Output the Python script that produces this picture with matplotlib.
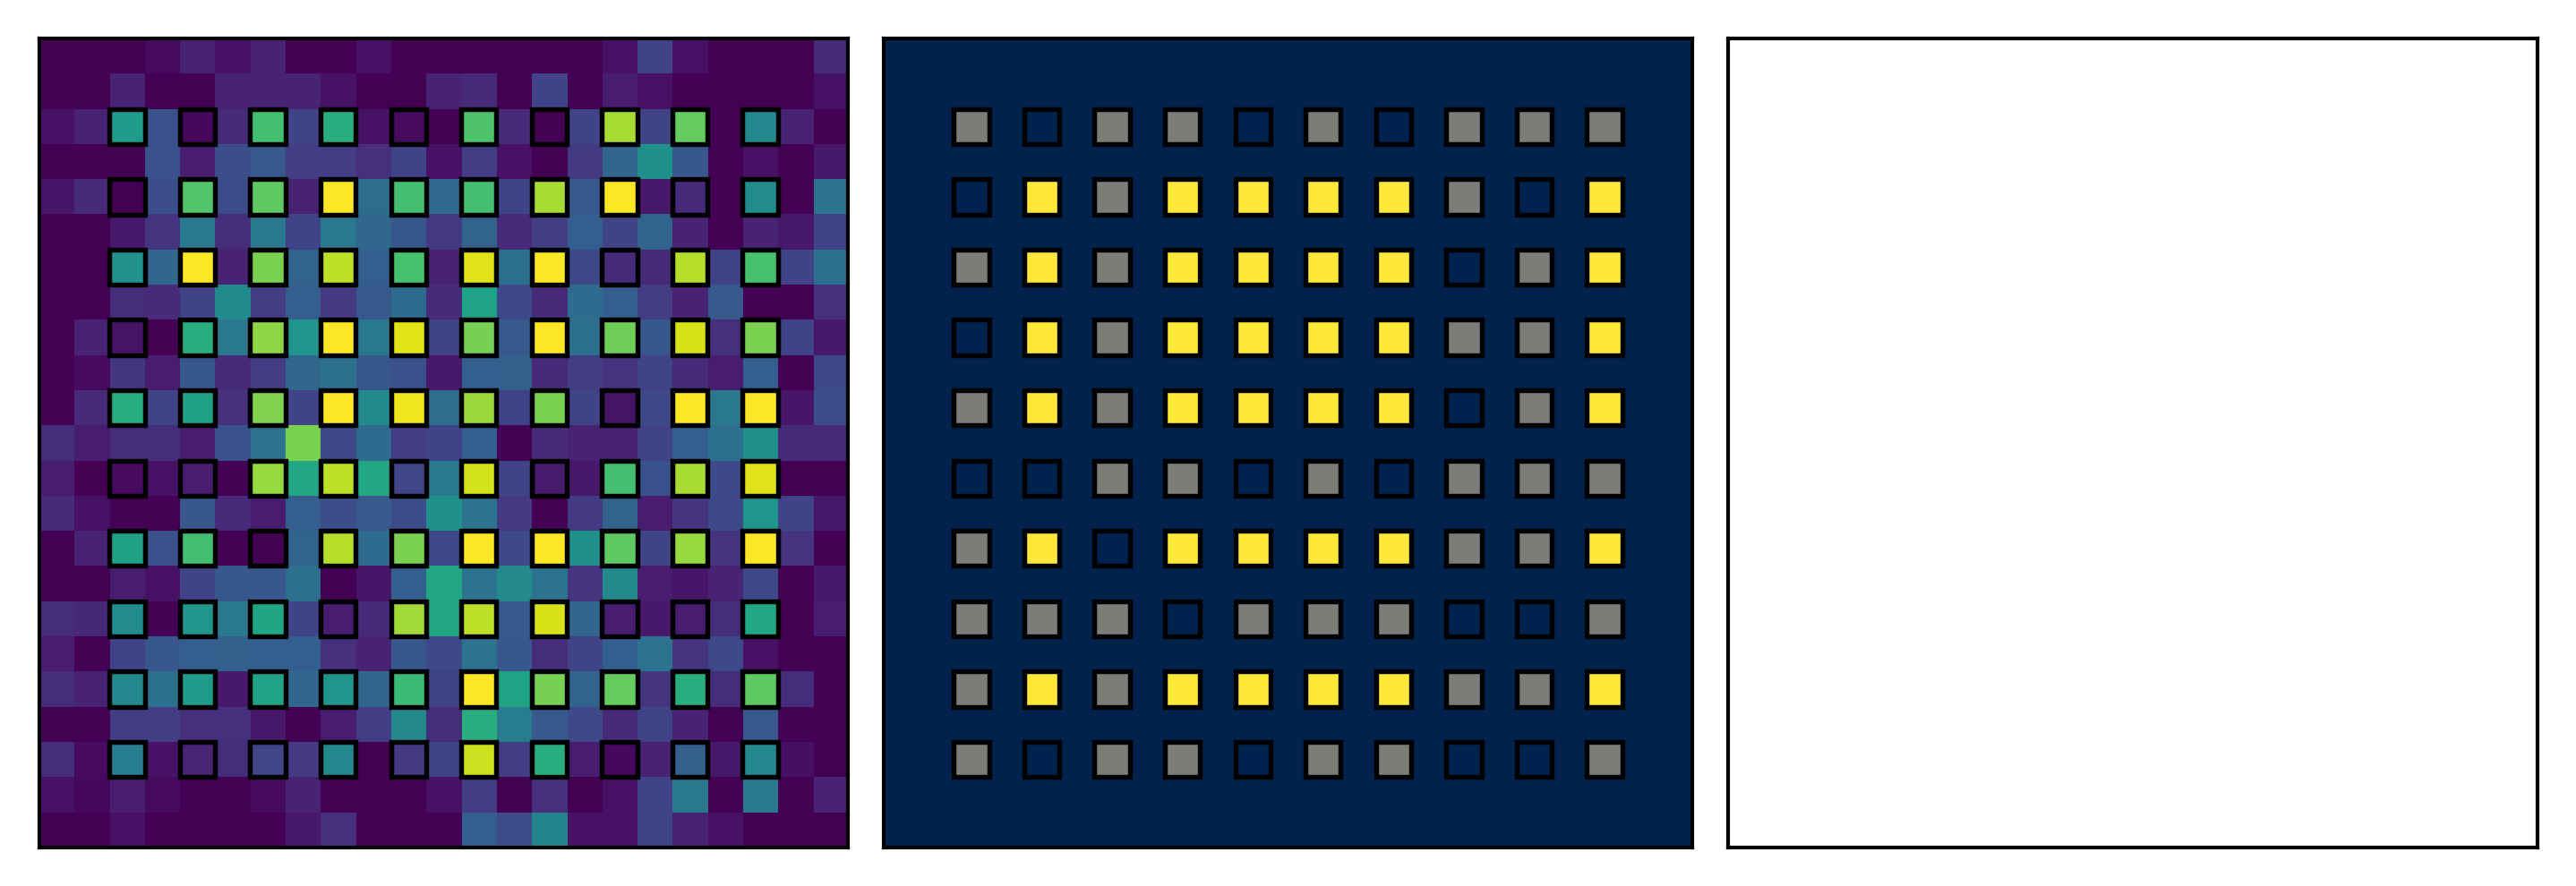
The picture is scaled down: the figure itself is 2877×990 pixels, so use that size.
import numpy as np
import matplotlib
matplotlib.use("Agg")
import matplotlib.pyplot as plt
from matplotlib.patches import Rectangle
from matplotlib.colors import Normalize

# ---------------- data ----------------
# background heatmap (23 x 23), viridis scale 0..1
background = [
    [0.00, 0.00, 0.00, 0.03, 0.10, 0.05, 0.10, 0.00, 0.00, 0.05, 0.00, 0.00, 0.00, 0.00, 0.00, 0.00, 0.05, 0.20, 0.05, 0.00, 0.00, 0.00, 0.12],
    [0.00, 0.00, 0.10, 0.00, 0.00, 0.10, 0.10, 0.10, 0.05, 0.00, 0.00, 0.10, 0.12, 0.00, 0.20, 0.00, 0.08, 0.05, 0.00, 0.00, 0.00, 0.00, 0.05],
    [0.05, 0.10, 0.55, 0.25, 0.02, 0.12, 0.70, 0.20, 0.63, 0.05, 0.03, 0.00, 0.72, 0.12, 0.00, 0.20, 0.87, 0.20, 0.76, 0.00, 0.47, 0.10, 0.00],
    [0.00, 0.00, 0.00, 0.25, 0.08, 0.24, 0.28, 0.18, 0.18, 0.14, 0.20, 0.05, 0.18, 0.05, 0.00, 0.17, 0.33, 0.50, 0.27, 0.00, 0.05, 0.00, 0.07],
    [0.06, 0.12, 0.00, 0.24, 0.73, 0.23, 0.75, 0.10, 1.00, 0.36, 0.70, 0.34, 0.70, 0.20, 0.87, 0.28, 1.00, 0.07, 0.12, 0.00, 0.48, 0.00, 0.38],
    [0.00, 0.00, 0.07, 0.15, 0.40, 0.13, 0.40, 0.20, 0.40, 0.33, 0.27, 0.17, 0.32, 0.12, 0.18, 0.30, 0.20, 0.32, 0.10, 0.00, 0.10, 0.07, 0.20],
    [0.00, 0.00, 0.50, 0.33, 1.00, 0.10, 0.80, 0.32, 0.90, 0.30, 0.71, 0.10, 0.95, 0.37, 1.00, 0.22, 0.12, 0.12, 0.89, 0.20, 0.71, 0.20, 0.37],
    [0.00, 0.00, 0.13, 0.12, 0.20, 0.48, 0.18, 0.30, 0.17, 0.28, 0.35, 0.12, 0.58, 0.22, 0.12, 0.35, 0.30, 0.18, 0.10, 0.28, 0.00, 0.00, 0.14],
    [0.00, 0.10, 0.05, 0.00, 0.63, 0.40, 0.83, 0.52, 1.00, 0.40, 0.96, 0.20, 0.79, 0.28, 1.00, 0.37, 0.78, 0.27, 0.94, 0.14, 0.80, 0.20, 0.07],
    [0.00, 0.03, 0.16, 0.08, 0.27, 0.12, 0.18, 0.33, 0.37, 0.27, 0.25, 0.07, 0.30, 0.31, 0.12, 0.18, 0.15, 0.20, 0.12, 0.08, 0.30, 0.00, 0.22],
    [0.00, 0.12, 0.62, 0.20, 0.57, 0.14, 0.81, 0.20, 1.00, 0.48, 0.98, 0.36, 0.85, 0.20, 0.80, 0.20, 0.05, 0.22, 1.00, 0.40, 1.00, 0.06, 0.24],
    [0.13, 0.08, 0.13, 0.13, 0.08, 0.25, 0.38, 0.80, 0.22, 0.35, 0.18, 0.20, 0.30, 0.00, 0.12, 0.10, 0.10, 0.20, 0.30, 0.37, 0.50, 0.12, 0.12],
    [0.08, 0.00, 0.03, 0.05, 0.08, 0.00, 0.84, 0.60, 0.90, 0.60, 0.20, 0.40, 0.93, 0.20, 0.07, 0.07, 0.70, 0.25, 0.87, 0.22, 0.95, 0.00, 0.00],
    [0.12, 0.05, 0.00, 0.00, 0.27, 0.12, 0.08, 0.30, 0.24, 0.28, 0.23, 0.50, 0.38, 0.17, 0.00, 0.17, 0.32, 0.08, 0.15, 0.22, 0.52, 0.20, 0.07],
    [0.00, 0.10, 0.57, 0.25, 0.70, 0.00, 0.00, 0.32, 0.89, 0.35, 0.80, 0.22, 1.00, 0.22, 1.00, 0.50, 0.75, 0.20, 0.84, 0.15, 1.00, 0.15, 0.00],
    [0.00, 0.00, 0.08, 0.05, 0.20, 0.27, 0.27, 0.37, 0.00, 0.06, 0.30, 0.60, 0.38, 0.47, 0.38, 0.15, 0.48, 0.08, 0.06, 0.10, 0.22, 0.00, 0.07],
    [0.13, 0.11, 0.48, 0.00, 0.52, 0.40, 0.59, 0.20, 0.08, 0.12, 0.86, 0.60, 0.90, 0.28, 0.94, 0.33, 0.08, 0.07, 0.08, 0.13, 0.60, 0.00, 0.08],
    [0.08, 0.00, 0.20, 0.27, 0.30, 0.31, 0.30, 0.30, 0.14, 0.10, 0.27, 0.22, 0.38, 0.27, 0.13, 0.20, 0.30, 0.38, 0.15, 0.22, 0.05, 0.00, 0.00],
    [0.13, 0.10, 0.47, 0.37, 0.55, 0.07, 0.58, 0.33, 0.52, 0.33, 0.68, 0.20, 1.00, 0.58, 0.79, 0.32, 0.76, 0.15, 0.63, 0.13, 0.75, 0.13, 0.00],
    [0.00, 0.00, 0.18, 0.18, 0.14, 0.14, 0.07, 0.00, 0.08, 0.18, 0.47, 0.13, 0.63, 0.42, 0.28, 0.22, 0.12, 0.20, 0.10, 0.00, 0.28, 0.00, 0.00],
    [0.13, 0.03, 0.42, 0.05, 0.10, 0.13, 0.20, 0.17, 0.47, 0.00, 0.17, 0.20, 0.92, 0.18, 0.63, 0.08, 0.02, 0.10, 0.30, 0.07, 0.47, 0.04, 0.00],
    [0.05, 0.02, 0.08, 0.03, 0.00, 0.00, 0.03, 0.10, 0.00, 0.00, 0.00, 0.05, 0.18, 0.00, 0.14, 0.00, 0.05, 0.20, 0.40, 0.00, 0.40, 0.00, 0.10],
    [0.00, 0.00, 0.05, 0.00, 0.00, 0.00, 0.00, 0.07, 0.14, 0.00, 0.00, 0.00, 0.30, 0.23, 0.45, 0.05, 0.05, 0.20, 0.10, 0.05, 0.00, 0.00, 0.00],
]

# outlined squares on the left panel (10 x 10), viridis scale 0..1
square_values = [
    [0.55, 0.02, 0.70, 0.63, 0.03, 0.72, 0.00, 0.87, 0.76, 0.47],
    [0.00, 0.73, 0.75, 1.00, 0.70, 0.70, 0.87, 1.00, 0.12, 0.48],
    [0.50, 1.00, 0.80, 0.90, 0.71, 0.95, 1.00, 0.12, 0.89, 0.71],
    [0.05, 0.63, 0.83, 1.00, 0.96, 0.79, 1.00, 0.78, 0.94, 0.80],
    [0.62, 0.57, 0.81, 1.00, 0.98, 0.85, 0.80, 0.05, 1.00, 1.00],
    [0.03, 0.08, 0.84, 0.90, 0.20, 0.93, 0.07, 0.70, 0.87, 0.95],
    [0.57, 0.70, 0.00, 0.89, 0.80, 1.00, 1.00, 0.75, 0.84, 1.00],
    [0.48, 0.52, 0.59, 0.08, 0.86, 0.90, 0.94, 0.08, 0.08, 0.60],
    [0.47, 0.55, 0.58, 0.52, 0.68, 1.00, 0.79, 0.76, 0.63, 0.75],
    [0.42, 0.10, 0.20, 0.47, 0.17, 0.92, 0.63, 0.02, 0.30, 0.47],
]

# middle panel classes (cividis scale): 0 = low, 0.5 = mid, 1 = high
class_values = [
    [0.5, 0.0, 0.5, 0.5, 0.0, 0.5, 0.0, 0.5, 0.5, 0.5],
    [0.0, 1.0, 0.5, 1.0, 1.0, 1.0, 1.0, 0.5, 0.0, 1.0],
    [0.5, 1.0, 0.5, 1.0, 1.0, 1.0, 1.0, 0.0, 0.5, 1.0],
    [0.0, 1.0, 0.5, 1.0, 1.0, 1.0, 1.0, 0.5, 0.5, 1.0],
    [0.5, 1.0, 0.5, 1.0, 1.0, 1.0, 1.0, 0.0, 0.5, 1.0],
    [0.0, 0.0, 0.5, 0.5, 0.0, 0.5, 0.0, 0.5, 0.5, 0.5],
    [0.5, 1.0, 0.0, 1.0, 1.0, 1.0, 1.0, 0.5, 0.5, 1.0],
    [0.5, 0.5, 0.5, 0.0, 0.5, 0.5, 0.5, 0.0, 0.0, 0.5],
    [0.5, 1.0, 0.5, 1.0, 1.0, 1.0, 1.0, 0.5, 0.5, 1.0],
    [0.5, 0.0, 0.5, 0.5, 0.0, 0.5, 0.5, 0.0, 0.0, 0.5],
]

# ---------------- figure ----------------
W, H, DPI = 2877, 990, 300
fig = plt.figure(figsize=(W / DPI, H / DPI), dpi=DPI)

bg = np.array(background)
n = bg.shape[0]
sq_idx = np.arange(2, n - 2, 2)  # grid cells holding the outlined squares
norm = Normalize(vmin=0, vmax=1)

ax_w, ax_h = 903.5 / W, 903.5 / H
bottom = 43.3 / H
lefts = [43.7 / W, 986.8 / W, 1930.3 / W]
axes = [fig.add_axes([l, bottom, ax_w, ax_h]) for l in lefts]

def add_squares(ax, values, cmap):
    vals = np.array(values)
    for i, r in enumerate(sq_idx):
        for j, c in enumerate(sq_idx):
            ax.add_patch(Rectangle((c - 0.5, r - 0.5), 1, 1,
                                   facecolor=cmap(norm(vals[i, j])),
                                   edgecolor="black", linewidth=1.3, zorder=3))

# left: viridis heatmap with outlined squares
viridis = plt.get_cmap("viridis")
axes[0].imshow(bg, cmap=viridis, norm=norm, interpolation="nearest", aspect="auto")
add_squares(axes[0], square_values, viridis)

# middle: cividis background with class squares
cividis = plt.get_cmap("cividis")
axes[1].imshow(np.zeros_like(bg), cmap=cividis, norm=norm, interpolation="nearest", aspect="auto")
add_squares(axes[1], class_values, cividis)

# right: empty panel
for ax in axes:
    ax.set_xticks([])
    ax.set_yticks([])
    for s in ax.spines.values():
        s.set_linewidth(1.0)
axes[1].set_xlim(-0.5, n - 0.5)
axes[1].set_ylim(n - 0.5, -0.5)

fig.savefig("out.png", dpi=DPI)
